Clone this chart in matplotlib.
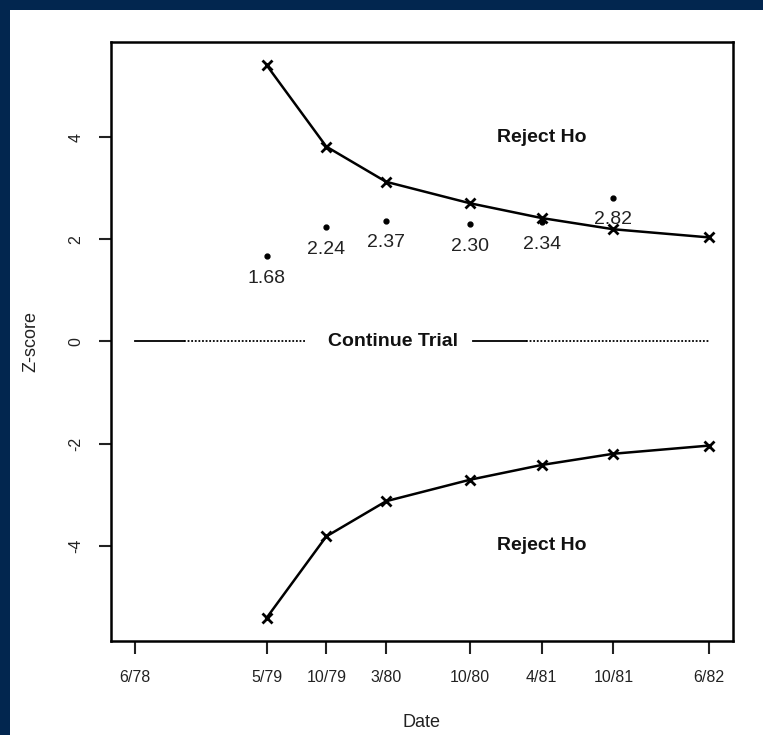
import matplotlib.pyplot as plt
from matplotlib.patches import Rectangle

plt.rcParams['font.family'] = ['Liberation Sans', 'DejaVu Sans']

# months since 6/78
months = [0, 11, 16, 21, 28, 34, 40, 48]
date_labels = ['6/78', '5/79', '10/79', '3/80', '10/80', '4/81', '10/81', '6/82']

# boundary (analysis dates, skipping 6/78)
bound_months = [11, 16, 21, 28, 34, 40, 48]
upper_bound = [5.42, 3.82, 3.13, 2.71, 2.42, 2.20, 2.04]
lower_bound = [-b for b in upper_bound]

# observed z statistics
obs_months = [11, 16, 21, 28, 34, 40]
obs_z = [1.68, 2.24, 2.37, 2.30, 2.34, 2.82]
obs_labels = ['1.68', '2.24', '2.37', '2.30', '2.34', '2.82']

# zero reference line pieces (solid, dotted) either side of the label
zero_solid = [(0, 4.1), (28.3, 32.7)]
zero_dotted = [(4.1, 14.3), (32.7, 48)]

W, H = 763, 735
fig = plt.figure(figsize=(W / 100, H / 100), dpi=100)
fig.patch.set_facecolor('#02264f')
fig.patches.append(Rectangle((10 / W, 0), 1, 1 - 10 / H, transform=fig.transFigure,
                             facecolor='white', edgecolor='none', zorder=-10))

ax = fig.add_axes([111 / W, 1 - 641 / H, (733 - 111) / W, (641 - 42) / H])
ax.set_facecolor('white')

ax.plot(bound_months, upper_bound, color='black', lw=1.8, marker='x', ms=7, mew=2)
ax.plot(bound_months, lower_bound, color='black', lw=1.8, marker='x', ms=7, mew=2)
ax.plot(obs_months, obs_z, 'o', color='black', ms=3.5, ls='none')
for m, z, t in zip(obs_months, obs_z, obs_labels):
    ax.annotate(t, (m, z), xytext=(0, -16), textcoords='offset points',
                ha='center', va='center', fontsize=14, color='#222222')

for a, b in zero_solid:
    ax.plot([a, b], [0, 0], color='black', lw=1.3)
for a, b in zero_dotted:
    ax.plot([a, b], [0, 0], color='black', lw=1.3, ls=(0, (1, 1)))

ax.text(21.6, 0, 'Continue Trial', ha='center', va='center', fontsize=14,
        fontweight='bold', color='#111111')
ax.text(34, 4, 'Reject Ho', ha='center', va='center', fontsize=14,
        fontweight='bold', color='#111111')
ax.text(34, -4, 'Reject Ho', ha='center', va='center', fontsize=14,
        fontweight='bold', color='#111111')

ax.set_xlim(-2, 50)
ax.set_ylim(-5.87, 5.87)
ax.set_xticks(months)
ax.set_xticklabels(date_labels)
ax.set_yticks([-4, -2, 0, 2, 4])
ax.set_yticklabels(['-4', '-2', '0', '2', '4'], rotation=90, va='center')
ax.tick_params(length=9, width=1.5, labelsize=11.5, pad=11, colors='#222222')
ax.tick_params(axis='x', pad=12)
for s in ax.spines.values():
    s.set_linewidth(1.8)
    s.set_color('black')

ax.set_xlabel('Date', fontsize=13, color='#222222', labelpad=21)
ax.set_ylabel('Z-score', fontsize=13, color='#222222', labelpad=21)

fig.savefig('out.png', dpi=100, facecolor=fig.get_facecolor())
